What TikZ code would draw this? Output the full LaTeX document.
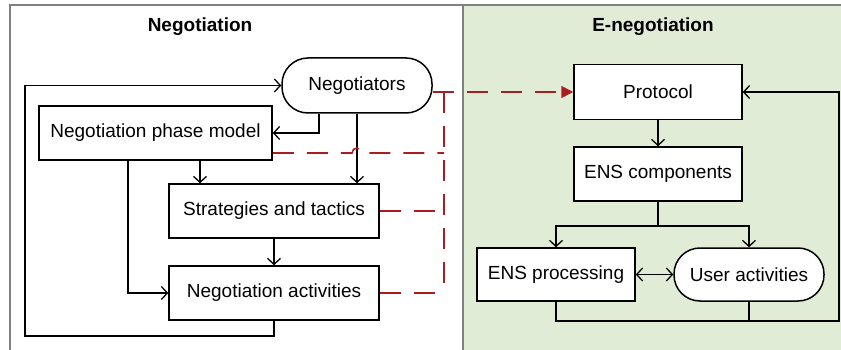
\documentclass[tikz,border=0pt]{standalone}
\usepackage{fontspec}
\setmainfont{Liberation Sans}
\usetikzlibrary{arrows.meta}
\definecolor{panelgreen}{RGB}{225,236,215}
\definecolor{framegray}{RGB}{128,128,128}
\definecolor{dashred}{RGB}{170,30,35}
\begin{document}
\begin{tikzpicture}[x=1pt,y=-1pt,
  box/.style={draw=black,fill=white,line width=1.5pt,inner sep=0pt,
    font=\fontsize{19}{22}\selectfont},
  stadium/.style={box,rounded corners=26pt},
  title/.style={font=\fontsize{19}{22}\selectfont\bfseries},
  arr/.style={draw=black,line width=1.3pt,-{Straight Barb[length=6pt,width=13pt]}},
  plain/.style={draw=black,line width=1.3pt},
  arrboth/.style={draw=black,line width=1.3pt,{Straight Barb[length=6pt,width=13pt]}-{Straight Barb[length=6pt,width=13pt]}},
  reddash/.style={draw=dashred,line width=1.6pt,dash pattern=on 21pt off 13pt},
]
\useasboundingbox (0,0) rectangle (841,350);
% panels
\fill[white] (10,5) rectangle (463,352);
\fill[panelgreen] (463,5) rectangle (843,352);
\draw[framegray,line width=1.5pt] (10,352) -- (10,5) -- (843,5);
\draw[framegray,line width=1.5pt] (463,5) -- (463,352);
% titles
\node[title] (t1) at (200,27) {Negotiation};
\node[title] (t2) at (653,27) {E-negotiation};
% nodes left
\node[stadium,minimum width=150pt,minimum height=55pt] (neg) at (357,85.5) {Negotiators};
\node[box,minimum width=233pt,minimum height=54pt] (npm) at (155.5,133) {Negotiation phase model};
\node[box,minimum width=210pt,minimum height=54pt] (st) at (274,211) {Strategies and tactics};
\node[box,minimum width=210pt,minimum height=54pt] (na) at (274,293) {Negotiation activities};
% nodes right
\node[box,minimum width=168pt,minimum height=55pt] (pro) at (658,92) {Protocol};
\node[box,minimum width=168pt,minimum height=54pt] (ens) at (658,174) {ENS components};
\node[box,minimum width=158pt,minimum height=53pt] (ensp) at (556,274.5) {ENS processing};
\node[stadium,minimum width=150pt,minimum height=53pt] (ua) at (749,274.5) {User activities};
% coordinates
\coordinate (lb) at (25,336);
\coordinate (rvt) at (444,92);
\coordinate (rvb) at (444,293);
\coordinate (hopA) at (352,153);
\coordinate (sp) at (658,226);
\coordinate (rb) at (839,321);
% left connectors
\draw[arr] (na.south) |- (lb) |- (neg.west);
\draw[arr] ([xshift=-38pt]neg.south) |- (npm.east);
\draw[arr] (neg.south) -- (neg.south |- st.north);
\draw[arr] ([xshift=44.5pt]npm.south) -- ([xshift=44.5pt]npm.south |- st.north);
\draw[arr] ([xshift=-27.5pt]npm.south) |- (na.west);
\draw[arr] (st) -- (na);
% red dashed
\draw[reddash,-{Triangle[length=12pt,width=12pt]}] (neg.east |- pro.west) -- (pro.west);
\draw[reddash] (rvt) -- (rvb);
\draw[reddash] ([yshift=-20pt]npm.east) -- (hopA) arc[start angle=180,end angle=0,radius=5pt] -- (rvt |- hopA);
\draw[reddash] (st.east) -- (st.east -| rvt);
\draw[reddash] (na.east) -- (na.east -| rvt);
% right connectors
\draw[arr] (pro) -- (ens);
\draw[arr] (ens.south) -- (sp) -| (ensp.north);
\draw[arr] (sp) -| (ua.north);
\draw[arrboth] (ensp) -- (ua);
\draw[arr] (ensp.south) |- (rb) |- (pro.east);
\draw[plain] (ua.south) -- (ua.south |- rb);
\end{tikzpicture}
\end{document}
